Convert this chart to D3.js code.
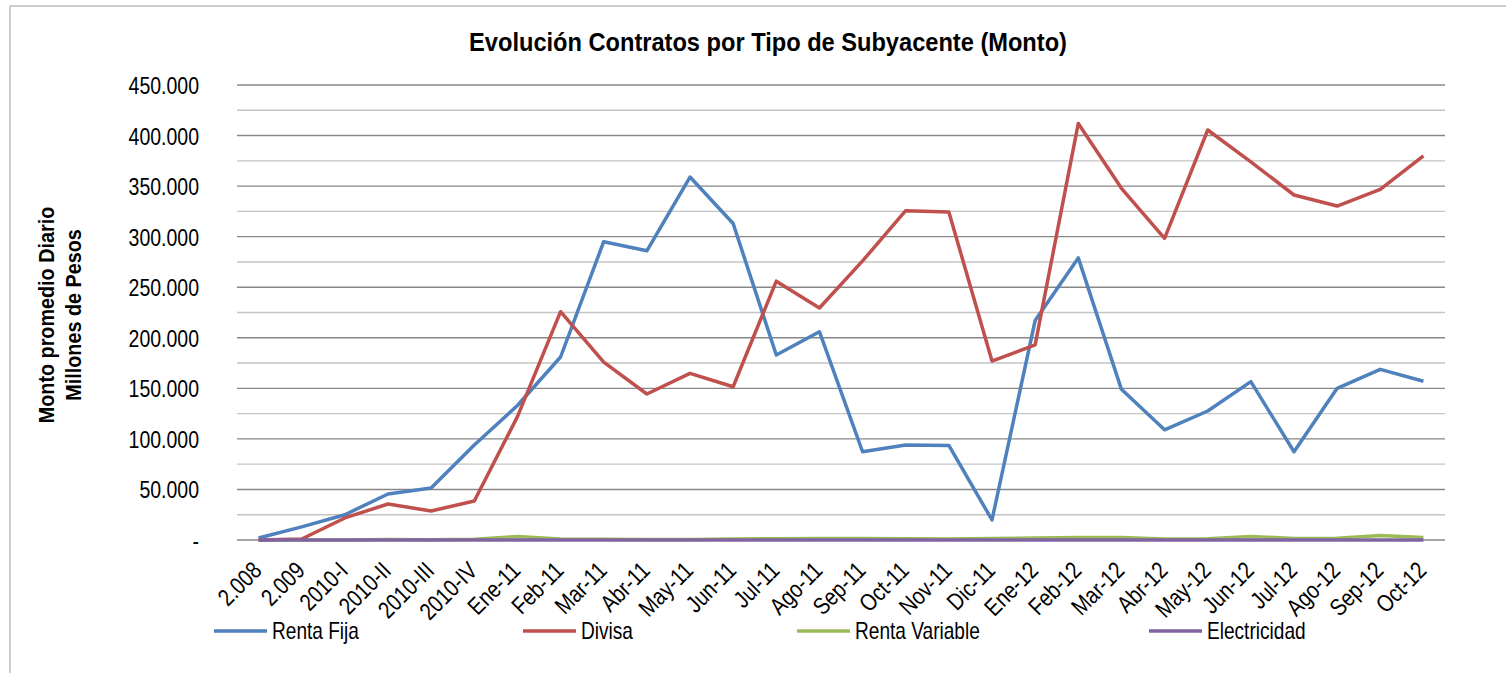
<!DOCTYPE html>
<html lang="es">
<head>
<meta charset="utf-8">
<title>Evolución Contratos por Tipo de Subyacente</title>
<script src="https://d3js.org/d3.v7.min.js"></script>
<style>
  body { margin: 0; background: #fff; }
  text { font-family: "Liberation Sans", Arial, sans-serif; fill: #000; }
</style>
</head>
<body>
<div id="chart"></div>
<script>
// categories on the x axis
var periods = ["2.008", "2.009", "2010-I", "2010-II", "2010-III", "2010-IV",
  "Ene-11", "Feb-11", "Mar-11", "Abr-11", "May-11", "Jun-11", "Jul-11", "Ago-11",
  "Sep-11", "Oct-11", "Nov-11", "Dic-11", "Ene-12", "Feb-12", "Mar-12", "Abr-12",
  "May-12", "Jun-12", "Jul-12", "Ago-12", "Sep-12", "Oct-12"];

// series values (millones de pesos)
var rentaFija = [2000, 13000, 25000, 45500, 51500, 94000, 133000, 181000, 295000, 286000,
  359000, 313000, 183000, 206000, 87300, 94000, 93500, 19800, 217000, 279000,
  149000, 109000, 127600, 156600, 87300, 150000, 168800, 157000];
var divisa = [0, 1000, 21800, 35600, 28700, 38600, 122000, 225800, 176000, 144400,
  164800, 151600, 256000, 229400, 276000, 325700, 324400, 177000, 192900, 412000,
  347800, 298400, 405500, 374000, 341200, 330300, 346800, 379800];
var rentaVariable = [0, 0, 0, 500, 300, 800, 3500, 1000, 800, 500,
  600, 1000, 1200, 1500, 1500, 1200, 1000, 1500, 2000, 2500,
  2500, 1000, 1200, 3500, 1500, 1800, 4500, 2500];
var electricidad = [0, 0, 0, 0, 0, 0, 0, 0, 0, 0,
  0, 0, 0, 0, 0, 0, 0, 0, 0, 0,
  0, 0, 0, 0, 0, 0, 0, 0];

var seriesNames = ["Renta Fija", "Divisa", "Renta Variable", "Electricidad"];
var seriesColors = ["#4F81BD", "#C0504D", "#9BBB59", "#8064A2"];
var yTicks = [0, 50000, 100000, 150000, 200000, 250000, 300000, 350000, 400000, 450000];

var w = 1506, h = 673;
var plotLeft = 237, plotRight = 1445, plotTop = 85, plotBottom = 540;
var narrow = "scale(0.83,1)"; // the original uses a condensed font

var svg = d3.select("#chart").append("svg")
  .attr("width", w)
  .attr("height", h);

// chart border
svg.append("rect")
  .attr("x", 10).attr("y", 6)
  .attr("width", w).attr("height", h)
  .attr("fill", "none")
  .attr("stroke", "#bfbfbf")
  .attr("stroke-width", 1.5);

var xScale = d3.scalePoint()
  .domain(periods)
  .range([plotLeft, plotRight])
  .padding(0.5);

var yScale = d3.scaleLinear()
  .domain([0, 450000])
  .range([plotBottom, plotTop]);

// gridlines, every 25.000 (minor ones lighter)
var gridVals = d3.range(0, 450001, 25000);
svg.append("g").selectAll("line")
  .data(gridVals)
  .enter()
  .append("line")
  .attr("x1", plotLeft).attr("x2", plotRight)
  .attr("y1", function (d) { return yScale(d); })
  .attr("y2", function (d) { return yScale(d); })
  .attr("stroke", function (d) { return d % 50000 === 0 ? "#878787" : "#c4c4c4"; })
  .attr("stroke-width", 1.4);

// y axis
var fmt = function (d) {
  if (d === 0) return "-";
  return d3.format(",")(d).replace(/,/g, ".");
};
var yAxis = d3.axisLeft(yScale)
  .tickValues(yTicks)
  .tickSize(0)
  .tickPadding(0)
  .tickFormat(fmt);
var gy = svg.append("g")
  .attr("transform", "translate(199,0)")
  .call(yAxis);
gy.select(".domain").remove();
gy.selectAll("text")
  .style("font-size", "23.5px")
  .attr("dy", "0.36em")
  .attr("transform", narrow);

// x axis
var xAxis = d3.axisBottom(xScale).tickSize(0).tickPadding(0);
var gx = svg.append("g")
  .attr("transform", "translate(0," + plotBottom + ")")
  .call(xAxis);
gx.select(".domain").remove();
gx.selectAll("text")
  .style("font-size", "24px")
  .attr("text-anchor", "end")
  .attr("y", 0)
  .attr("dy", 0)
  .attr("transform", "translate(4,32) rotate(-45) " + narrow);

// lines
var allSeries = [rentaFija, divisa, rentaVariable, electricidad];
var line = d3.line()
  .x(function (d, i) { return xScale(periods[i]); })
  .y(function (d) { return yScale(d); });

[2, 0, 1, 3].forEach(function (k) {
  svg.append("path")
    .datum(allSeries[k])
    .attr("d", line)
    .attr("fill", "none")
    .attr("stroke", seriesColors[k])
    .attr("stroke-width", 3.5)
    .attr("stroke-linejoin", "round");
});

// title
svg.append("text")
  .attr("transform", "translate(768,51) scale(0.945,1)")
  .attr("text-anchor", "middle")
  .style("font-size", "25px")
  .style("font-weight", "bold")
  .text("Evolución Contratos por Tipo de Subyacente (Monto)");

// y axis title
var yt = svg.append("text")
  .attr("transform", "translate(60,315) rotate(-90) scale(0.9,1)")
  .attr("text-anchor", "middle")
  .style("font-size", "22px")
  .style("font-weight", "bold");
yt.append("tspan").attr("x", 0).attr("dy", "-0.28em").text("Monto promedio Diario");
yt.append("tspan").attr("x", 0).attr("dy", "1.22em").text("Millones de Pesos");

// legend
var legendX = [214, 523, 797, 1149];
var legend = svg.append("g").selectAll("g")
  .data(seriesNames)
  .enter()
  .append("g")
  .attr("transform", function (d, i) { return "translate(" + legendX[i] + ",631)"; });
legend.append("line")
  .attr("x1", 0).attr("x2", 53)
  .attr("stroke", function (d, i) { return seriesColors[i]; })
  .attr("stroke-width", 3.5);
legend.append("text")
  .attr("transform", "translate(58,0) " + narrow)
  .attr("dy", "0.36em")
  .style("font-size", "23px")
  .text(function (d) { return d; });
</script>
</body>
</html>
